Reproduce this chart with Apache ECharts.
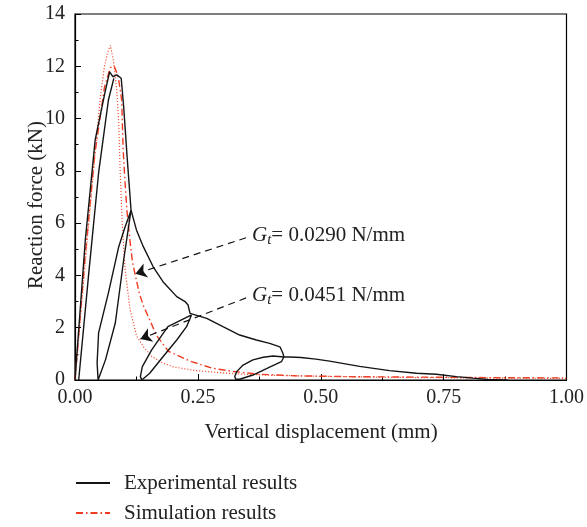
<!DOCTYPE html>
<html>
<head>
<meta charset="utf-8">
<script src="https://cdn.jsdelivr.net/npm/echarts@6/dist/echarts.min.js"></script>
<style>
  html, body { margin: 0; padding: 0; background: #fff; }
  #chart { width: 587px; height: 527px; }
</style>
</head>
<body>
<div id="chart"></div>
<script>
// 试验曲线（位移 mm, 反力 kN）
var expEnvelope = [
  [0, 0], [0.021, 5.36], [0.041, 9.18], [0.062, 11.09], [0.0705, 11.79], [0.072, 11.86],
  [0.077, 11.6], [0.079, 11.54], [0.085, 11.67], [0.094, 11.54], [0.099, 10.46],
  [0.106, 8.54], [0.110, 7.52], [0.114, 6.5], [0.125, 5.74], [0.139, 5.10],
  [0.159, 4.33], [0.179, 3.76], [0.207, 3.19], [0.224, 3.0], [0.230, 2.87],
  [0.234, 2.55], [0.237, 2.49], [0.268, 2.36], [0.301, 2.04], [0.335, 1.72],
  [0.369, 1.53], [0.396, 1.40], [0.417, 1.27], [0.423, 1.02], [0.425, 0.88],
  [0.437, 0.88], [0.46, 0.86], [0.49, 0.8], [0.518, 0.72], [0.579, 0.52],
  [0.64, 0.36], [0.695, 0.26], [0.735, 0.22], [0.776, 0.13], [0.81, 0.07],
  [0.84, 0.02], [0.87, 0], [0.88, 0]
];
var expReload = [[0.0075, 0], [0.028, 4.09], [0.048, 7.92], [0.068, 10.71], [0.079, 11.54]];
var expLoop1 = [
  [0.114, 6.5], [0.099, 4.59], [0.082, 2.18], [0.062, 0.77], [0.047, 0],
  [0.045, 0.65], [0.048, 1.80], [0.068, 3.33], [0.089, 5.10], [0.102, 5.86], [0.114, 6.48]
];
var expLoop2 = [
  [0.237, 2.49], [0.234, 2.49], [0.189, 2.04], [0.156, 1.15], [0.137, 0.51],
  [0.133, 0.13], [0.136, 0], [0.152, 0.26], [0.179, 0.89], [0.207, 1.53],
  [0.227, 2.04], [0.237, 2.49]
];
var expLoop3 = [
  [0.425, 0.88], [0.403, 0.92], [0.383, 0.87], [0.362, 0.77], [0.342, 0.57],
  [0.329, 0.32], [0.325, 0.13], [0.327, 0.03], [0.335, 0.03], [0.362, 0.19],
  [0.396, 0.49], [0.42, 0.70], [0.425, 0.88]
];
// 模拟曲线
var simDashDot = [
  [0, 0], [0.02, 4.6], [0.04, 8.6], [0.06, 11.2], [0.072, 11.95], [0.08, 12.0],
  [0.088, 11.6], [0.095, 10.7], [0.098, 8.8], [0.102, 7.5], [0.106, 6.4],
  [0.112, 5.3], [0.117, 4.5], [0.124, 3.9], [0.131, 3.3], [0.14, 2.8],
  [0.152, 2.3], [0.166, 1.7], [0.19, 1.1], [0.237, 0.7], [0.28, 0.45],
  [0.32, 0.33], [0.376, 0.22], [0.45, 0.16], [0.55, 0.13], [0.7, 0.11],
  [0.85, 0.09], [1.0, 0.08]
];
var simDotted = [
  [0, 0], [0.02, 4.3], [0.04, 8.5], [0.052, 10.9], [0.06, 12.0], [0.066, 12.5],
  [0.072, 12.8], [0.078, 12.24], [0.085, 11.09], [0.089, 9.83], [0.092, 7.92],
  [0.096, 6.0], [0.102, 4.2], [0.112, 2.7], [0.125, 1.7], [0.14, 1.25],
  [0.155, 0.92], [0.175, 0.68], [0.2, 0.5], [0.245, 0.36], [0.32, 0.24],
  [0.4, 0.18], [0.5, 0.14], [0.65, 0.1], [0.8, 0.08], [1.0, 0.06]
];
var xTicks = [0, 0.25, 0.5, 0.75, 1.0];
var yTicks = [0, 2, 4, 6, 8, 10, 12, 14];

var serif = '"Liberation Serif", "DejaVu Serif", serif';
var black = '#151515';
var red = '#ee3b22';
var textColor = '#222';

var chart = echarts.init(document.getElementById('chart'));

function expSeries(data) {
  return {
    name: 'Experimental results',
    type: 'line',
    data: data,
    symbol: 'none',
    color: black,
    lineStyle: { color: black, width: 1.4 },
    z: 3
  };
}

function gtLabel(value) {
  return {
    text: '{g|G}{t|t}{r|= ' + value + ' N/mm}', verticalAlign: 'middle',
    rich: {
      g: { fontFamily: serif, fontSize: 21, fontStyle: 'italic', fill: textColor },
      t: { fontFamily: serif, fontSize: 15, fontStyle: 'italic', fill: textColor, padding: [10, 0, 0, 0] },
      r: { fontFamily: serif, fontSize: 21, fill: textColor }
    }
  };
}

var option = {
  animation: false,
  grid: {
    left: 75, right: 20, top: 14, bottom: 147,
    show: true, borderColor: '#000', borderWidth: 1.2
  },
  legend: {
    data: ['Experimental results', 'Simulation results'],
    orient: 'vertical',
    left: 75,
    top: 472,
    padding: 0,
    itemWidth: 34,
    itemHeight: 14,
    itemGap: 8,
    itemStyle: { opacity: 0 },
    textStyle: { fontFamily: serif, fontSize: 21, lineHeight: 22, color: textColor, padding: [0, 0, 0, 9] }
  },
  xAxis: {
    type: 'value',
    min: 0, max: 1, interval: 0.25,
    axisLine: { lineStyle: { color: '#000', width: 1.2 } },
    axisTick: { inside: true, length: 6, lineStyle: { color: '#000' } },
    minorTick: { show: true, splitNumber: 2, length: 3.5, lineStyle: { color: '#000' } },
    splitLine: { show: false },
    axisLabel: {
      margin: 8, fontFamily: serif, fontSize: 20, color: textColor,
      formatter: function (v) { return v.toFixed(2); }
    }
  },
  yAxis: {
    type: 'value',
    min: 0, max: 14, interval: 2,
    axisLine: { show: true, lineStyle: { color: '#000', width: 1.2 } },
    axisTick: { show: true, inside: true, length: 6, lineStyle: { color: '#000' } },
    minorTick: { show: true, splitNumber: 2, length: 3.5, lineStyle: { color: '#000' } },
    splitLine: { show: false },
    axisLabel: { margin: 10, fontFamily: serif, fontSize: 20, color: textColor }
  },
  graphic: [
    {
      type: 'text', x: 321, y: 432,
      style: { text: 'Vertical displacement (mm)', font: '21px ' + serif, fill: textColor, align: 'center', verticalAlign: 'middle' }
    },
    {
      type: 'text', x: 36, y: 205, rotation: Math.PI / 2,
      style: { text: 'Reaction force (kN)', font: '21px ' + serif, fill: textColor, align: 'center', verticalAlign: 'middle' }
    },
    { type: 'text', x: 252, y: 235, style: gtLabel('0.0290') },
    { type: 'text', x: 252, y: 295, style: gtLabel('0.0451') }
  ],
  series: [
    {
      name: 'Simulation results',
      type: 'line',
      data: simDashDot,
      symbol: 'none',
      color: red,
      lineStyle: { color: red, width: 1.4, type: [7, 3, 1.5, 3] },
      z: 2
    },
    {
      name: 'Simulation results',
      type: 'line',
      data: simDotted,
      symbol: 'none',
      color: red,
      lineStyle: { color: '#f2553b', width: 1.2, type: [1.2, 1.8] },
      z: 2
    },
    expSeries(expEnvelope),
    expSeries(expReload),
    expSeries(expLoop1),
    expSeries(expLoop2),
    expSeries(expLoop3),
    {
      // 标注箭头
      type: 'line',
      data: [],
      silent: true,
      markLine: {
        silent: true,
        symbol: ['none', 'arrow'],
        symbolSize: 11,
        label: { show: false },
        lineStyle: { color: black, type: [7, 5], width: 1.2 },
        data: [
          [{ coord: [0.348, 5.44] }, { coord: [0.123, 4.06] }],
          [{ coord: [0.348, 3.14] }, { coord: [0.133, 1.57] }]
        ]
      }
    }
  ]
};
chart.setOption(option);
</script>
</body>
</html>
